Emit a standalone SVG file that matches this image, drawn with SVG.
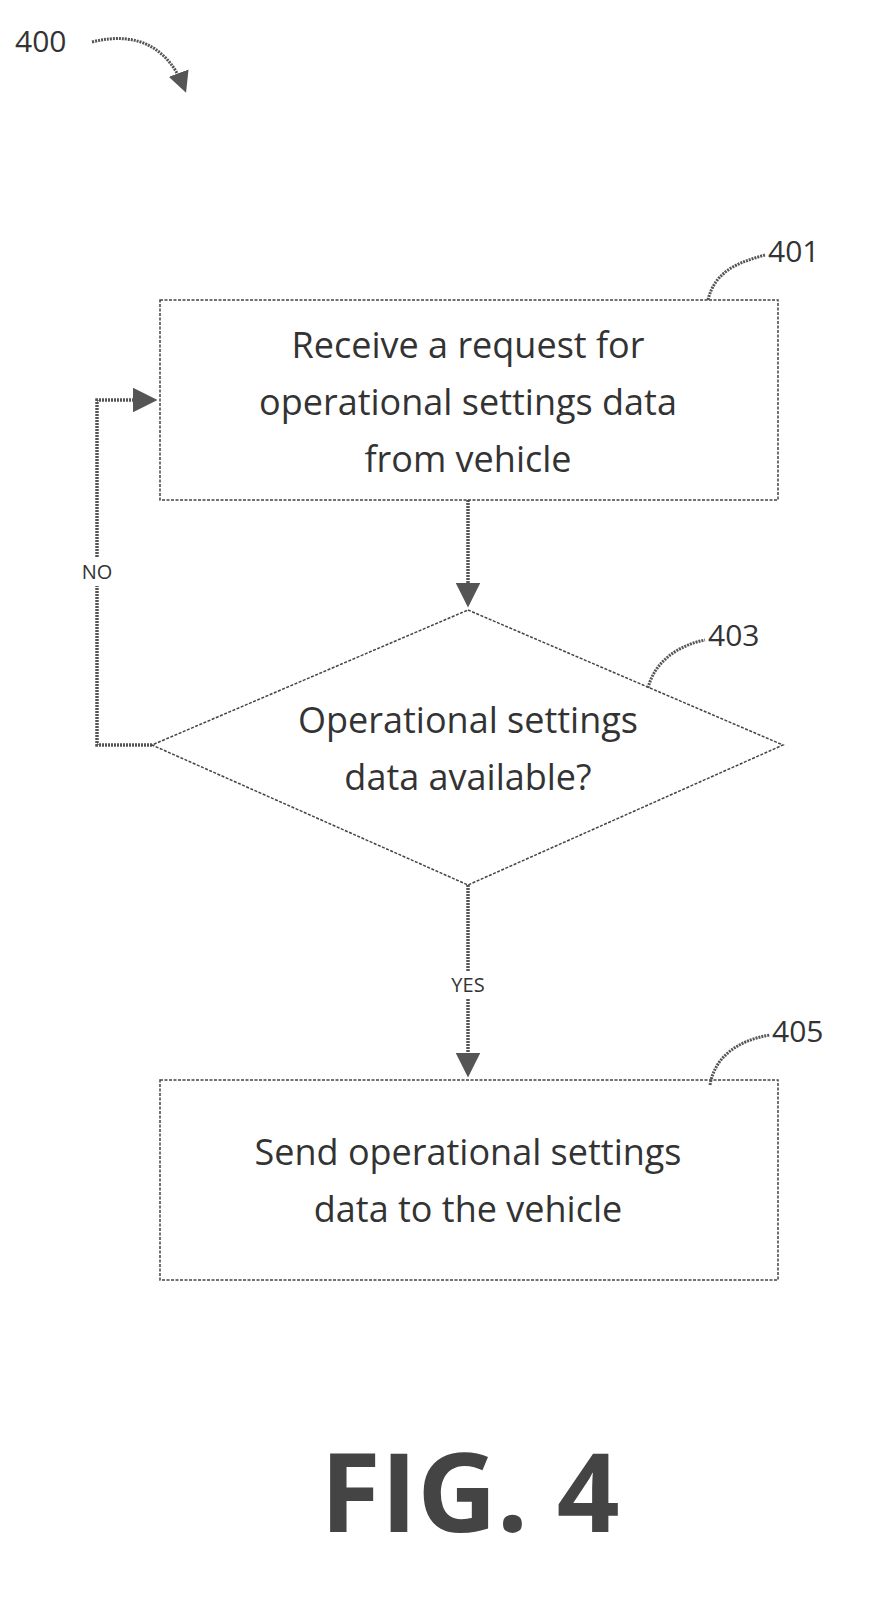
<svg xmlns="http://www.w3.org/2000/svg" width="894" height="1621" viewBox="0 0 894 1621">
<defs>
<style>
.n{fill:#fff;stroke:#444;stroke-width:1.5;stroke-dasharray:3 1.5}
.t{font-family:"Open Sans",sans-serif;font-size:36px;fill:#333;text-anchor:middle}
.r{font-family:"Open Sans",sans-serif;font-size:30px;fill:#333}
.l{font-family:"Open Sans",sans-serif;font-size:20px;fill:#333;text-anchor:middle}
.c{fill:none;stroke:#555;stroke-width:3.5;stroke-dasharray:2 1}
.ld{fill:none;stroke:#555;stroke-width:3;stroke-dasharray:2 1}
</style>
<marker id="a" markerWidth="7" markerHeight="7" refX="6" refY="3.5" orient="auto" markerUnits="strokeWidth"><path d="M0,0 L7,3.5 L0,7 Z" fill="#555"/></marker>
</defs>
<rect width="894" height="1621" fill="#fff"/>
<g id="ref400">
<text class="r" x="15" y="52">400</text>
<path class="ld" d="M92,42 C140,30 170,50 185,90" marker-end="url(#a)"/>
</g>
<g id="connectors">
<path class="c" d="M468,500 V604" marker-end="url(#a)"/>
<path class="c" d="M468,885 V1074" marker-end="url(#a)"/>
<path class="c" d="M152,745 H97 V400 H154" marker-end="url(#a)"/>
<rect x="75" y="558" width="44" height="28" fill="#fff"/>
<text class="l" x="97" y="579">NO</text>
<rect x="442" y="971" width="52" height="28" fill="#fff"/>
<text class="l" x="468" y="992">YES</text>
</g>
<g id="n401">
<rect class="n" x="160" y="300" width="618" height="200"/>
<text class="t" x="468" y="358">Receive a request for</text>
<text class="t" x="468" y="415">operational settings data</text>
<text class="t" x="468" y="472">from vehicle</text>
<path class="ld" d="M708,300 C715,270 740,262 765,255"/>
<text class="r" x="768" y="262">401</text>
</g>
<g id="n403">
<polygon class="n" points="468,610 783,745 468,885 152,745"/>
<text class="t" x="468" y="733">Operational settings</text>
<text class="t" x="468" y="790">data available?</text>
<path class="ld" d="M648,688 C655,660 680,645 705,640"/>
<text class="r" x="708" y="646">403</text>
</g>
<g id="n405">
<rect class="n" x="160" y="1080" width="618" height="200"/>
<text class="t" x="468" y="1165">Send operational settings</text>
<text class="t" x="468" y="1222">data to the vehicle</text>
<path class="ld" d="M710,1085 C715,1055 740,1040 770,1035"/>
<text class="r" x="772" y="1042">405</text>
</g>
<text x="470" y="1532" font-family="'Open Sans',sans-serif" font-weight="bold" font-size="110" fill="#444" text-anchor="middle">FIG. 4</text>
</svg>
